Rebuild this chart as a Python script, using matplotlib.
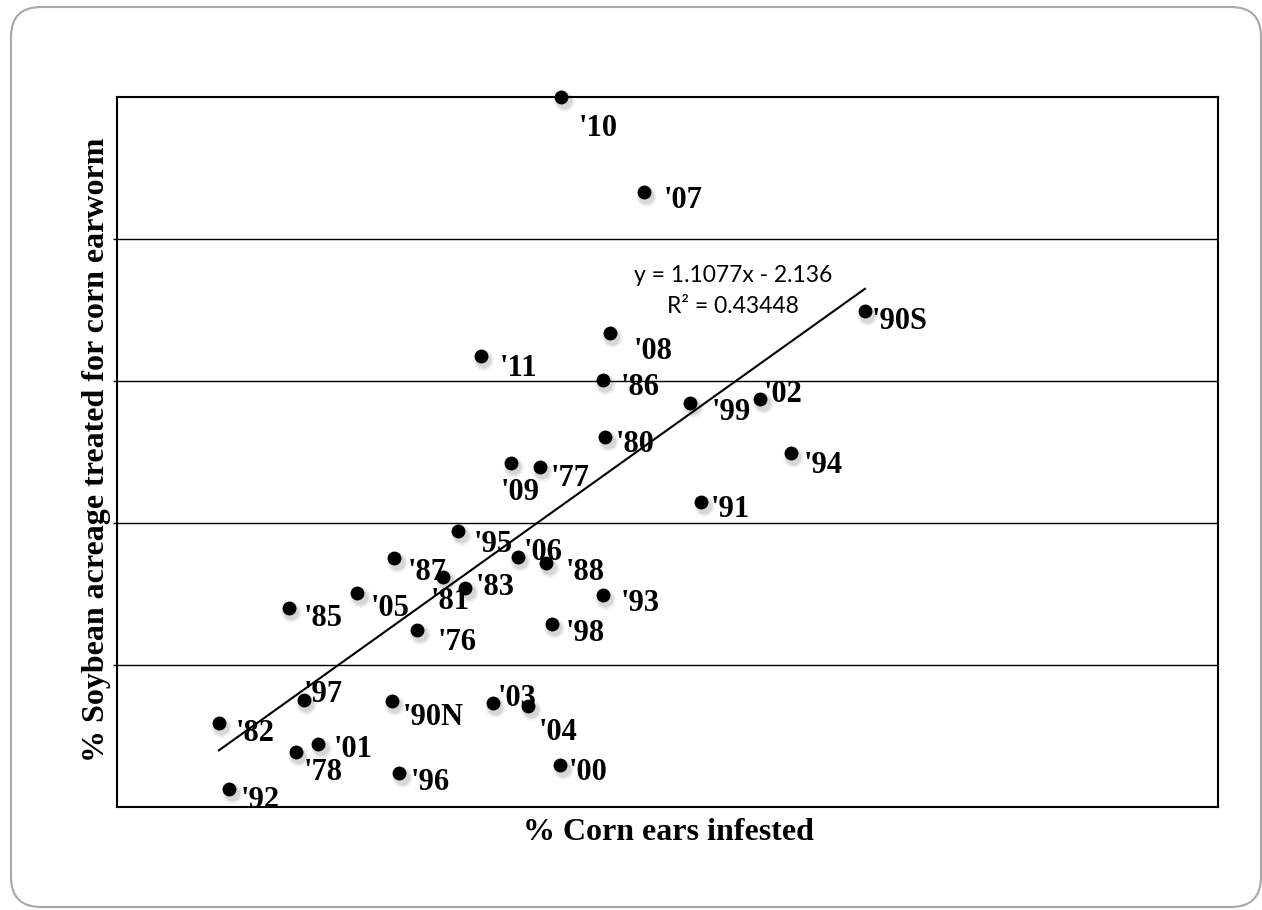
import matplotlib.pyplot as plt
from matplotlib.patches import FancyBboxPatch
from matplotlib import transforms

# ========== data ==========
years = ["'10", "'07", "'90S", "'08", "'11", "'86", "'99", "'02", "'80", "'94",
         "'09", "'77", "'91", "'95", "'06", "'88", "'87", "'81", "'83", "'05",
         "'93", "'85", "'76", "'98", "'97", "'90N", "'03", "'04", "'82", "'01",
         "'78", "'96", "'00", "'92"]
corn_infested = [11.50, 13.38, 18.40, 12.61, 9.68, 12.45, 14.43, 16.02, 12.50, 16.72,
                 10.36, 11.02, 14.68, 9.16, 10.52, 11.16, 7.71, 8.82, 9.32, 6.87,
                 12.45, 5.32, 8.23, 11.29, 5.66, 7.66, 9.95, 10.75, 3.73, 5.98,
                 5.48, 7.82, 11.48, 3.96]
soy_treated = [25.00, 21.65, 17.46, 16.69, 15.88, 15.04, 14.23, 14.37, 13.03, 12.46,
               12.11, 11.97, 10.74, 9.72, 8.80, 8.59, 8.77, 8.10, 7.71, 7.54,
               7.46, 7.01, 6.23, 6.44, 3.77, 3.73, 3.66, 3.56, 2.96, 2.22,
               1.94, 1.20, 1.48, 0.63]

# trend line (from the chart's equation)
slope = 1.1077
intercept = -2.136
r2 = 0.43448

# label offsets in pixels (dx right, dy down) - layout only
label_offsets = {
    "'10": (37, 32), "'07": (39, 8), "'90S": (35, 10), "'08": (43, 18),
    "'11": (38, 12), "'86": (37, 8), "'99": (41, 10), "'02": (23, -4),
    "'80": (30, 8), "'94": (32, 12), "'09": (9, 29), "'77": (30, 11),
    "'91": (29, 8), "'95": (35, 14), "'06": (25, -5), "'88": (39, 9),
    "'87": (33, 15), "'81": (7, 25), "'83": (30, -1), "'05": (33, 16),
    "'93": (37, 8), "'85": (34, 11), "'76": (40, 12), "'98": (33, 9),
    "'97": (19, -5), "'90N": (41, 16), "'03": (24, -5), "'04": (30, 27),
    "'82": (36, 11), "'01": (35, 6), "'78": (27, 21), "'96": (31, 10),
    "'00": (28, 8), "'92": (31, 11),
}

serif = ['Liberation Serif', 'DejaVu Serif']

fig = plt.figure(figsize=(12.62, 9.10), dpi=100)

# rounded frame round the slide
frame = FancyBboxPatch((0.11, 0.03), 12.50, 9.00,
                       boxstyle="round,pad=0,rounding_size=0.3",
                       transform=fig.dpi_scale_trans,
                       facecolor='none', edgecolor='#a8a8a8', linewidth=1.5,
                       zorder=-1)
fig.patches.append(frame)

ax = fig.add_axes([117 / 1262, 1 - 807 / 910, 1101 / 1262, 710 / 910])
ax.set_facecolor('none')
ax.set_xlim(1.415, 26.42)
ax.set_ylim(0, 25)
ax.set_yticks([5, 10, 15, 20])
ax.set_xticks([])
ax.tick_params(axis='y', direction='out', length=3, width=1, labelleft=False)
ax.grid(axis='y', color='black', linewidth=1.0)
ax.set_axisbelow(True)
for s in ax.spines.values():
    s.set_linewidth(1.5)
    s.set_color('black')

# soft shadow under markers
for size, alpha in [(15, 0.06), (13, 0.08), (11, 0.12)]:
    shadow = transforms.offset_copy(ax.transData, fig=fig, x=2.5, y=-4, units='dots')
    ax.plot(corn_infested, soy_treated, 'o', color='#555555', markersize=size,
            markeredgewidth=0, alpha=alpha, transform=shadow, clip_on=False, zorder=2)

ax.plot(corn_infested, soy_treated, 'o', color='black', markersize=10,
        markeredgewidth=0, clip_on=False, zorder=3)

# trend line over the data range
x_lo, x_hi = min(corn_infested), max(corn_infested)
ax.plot([x_lo, x_hi], [slope * x_lo + intercept, slope * x_hi + intercept],
        color='black', linewidth=1.5, zorder=4)

for yr, x, y in zip(years, corn_infested, soy_treated):
    dx, dy = label_offsets[yr]
    ax.annotate(yr, (x, y), xytext=(dx, -dy), textcoords='offset pixels',
                ha='center', va='center', fontsize=22, fontweight='bold',
                family=serif, annotation_clip=False, zorder=5)

fig.text(733 / 1262, 1 - 291 / 910,
         f"y = {slope}x - {abs(intercept)}\nR² = {r2}",
         ha='center', va='center', ma='center', fontsize=16.5,
         family=['Lato', 'DejaVu Sans'], linespacing=1.55)

fig.text(668 / 1262, 1 - 833 / 910, '% Corn ears infested',
         ha='center', va='center', fontsize=23, fontweight='bold', family=serif)
fig.text(97 / 1262, 1 - 450 / 910, '% Soybean acreage treated for corn earworm',
         ha='center', va='center', rotation=90, fontsize=23, fontweight='bold',
         family=serif)

fig.savefig('out.png', dpi=100)
